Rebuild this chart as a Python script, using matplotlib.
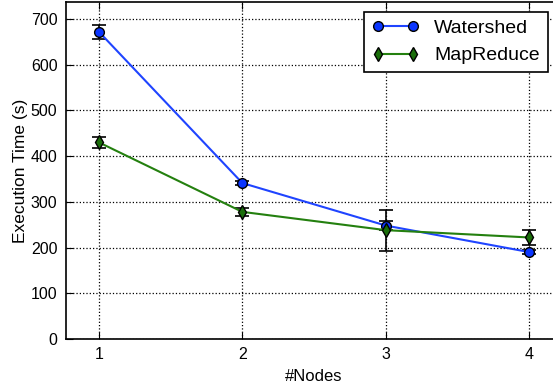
import matplotlib
matplotlib.use('Agg')
import matplotlib.pyplot as plt
from matplotlib.lines import Line2D

nodes = [1, 2, 3, 4]
watershed = [672, 341, 248, 190]
watershed_err = [15, 5, 10, 5]
mapreduce = [430, 278, 238, 222]
mapreduce_err = [12, 8, 45, 17]

blue = '#1f44ff'
green = '#24800f'

plt.rcParams['font.family'] = 'Liberation Sans'

fig = plt.figure(figsize=(5.53, 3.87), dpi=100)
ax = fig.add_axes([0.119, 0.124, 0.898, 0.871])

ax.errorbar(nodes, watershed, yerr=watershed_err, color=blue, marker='o', markersize=7,
            markerfacecolor='#0a35ff', markeredgecolor='black', ecolor='black',
            elinewidth=1.2, capsize=5, capthick=1.2, zorder=3)
ax.errorbar(nodes, mapreduce, yerr=mapreduce_err, color=green, marker='d', markersize=7,
            markerfacecolor='#1a6e0a', markeredgecolor='black', ecolor='black',
            elinewidth=1.2, capsize=5, capthick=1.2, zorder=3)

ax.set_xlim(0.77, 4.23)
ax.set_ylim(0, 737)
ax.set_xticks(nodes)
ax.set_yticks(range(0, 800, 100))
ax.tick_params(direction='in', top=True, right=True, labelsize=11.5, length=5, pad=6)
ax.grid(True, color='black', linestyle=':', linewidth=0.9)
for s in ax.spines.values():
    s.set_linewidth(1.2)

ax.set_xlabel('#Nodes', fontsize=12, labelpad=5)
ax.set_ylabel('Execution Time (s)', fontsize=12.5, labelpad=2)

handles = [
    Line2D([], [], color=blue, marker='o', markersize=7, markerfacecolor='#0a35ff',
           markeredgecolor='black'),
    Line2D([], [], color=green, marker='d', markersize=7, markerfacecolor='#1a6e0a',
           markeredgecolor='black'),
]
leg = ax.legend(handles, ['Watershed', 'MapReduce'], loc='upper right',
                bbox_to_anchor=(0.99, 1.0), fontsize=14, fancybox=False, framealpha=1,
                edgecolor='black', numpoints=2, handlelength=2.4, borderpad=0.4)
leg.get_frame().set_linewidth(1.2)

fig.savefig('out.png', dpi=100, facecolor='white')
